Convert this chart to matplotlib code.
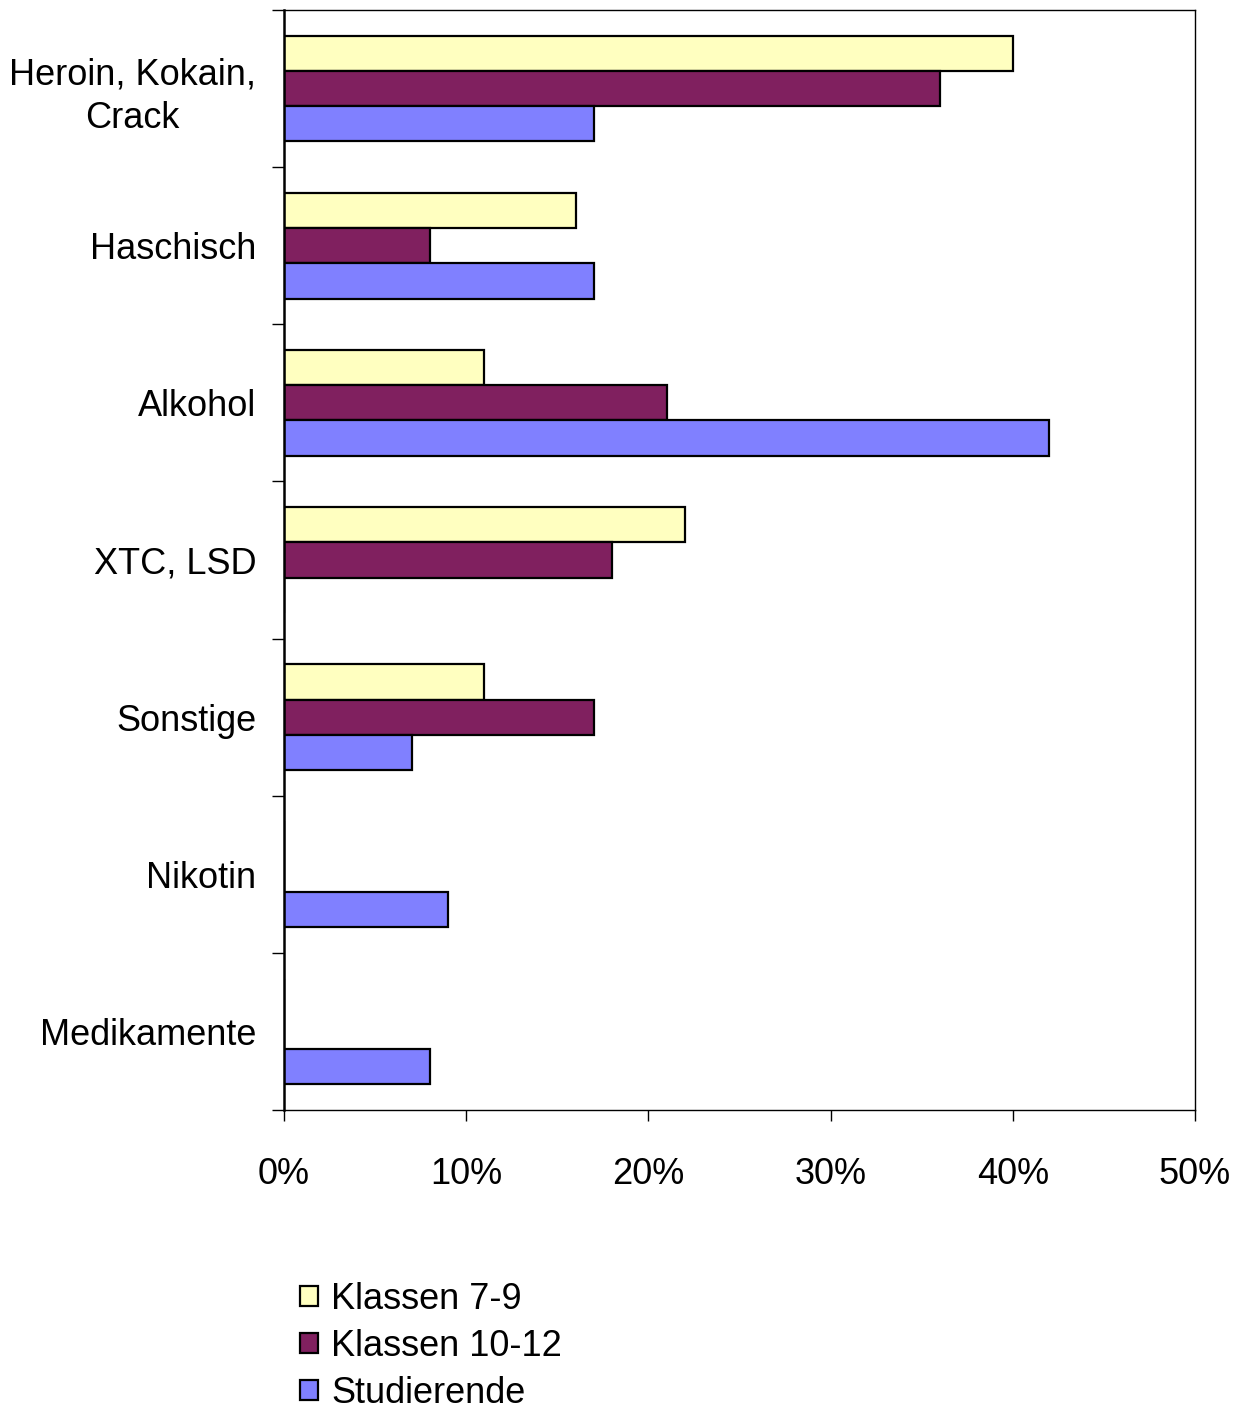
import numpy as np
import matplotlib
matplotlib.use("Agg")
import matplotlib.pyplot as plt
from matplotlib.ticker import PercentFormatter

plt.rcParams['font.family'] = ['Liberation Sans', 'DejaVu Sans']

categories = ["Heroin, Kokain,\nCrack", "Haschisch", "Alkohol", "XTC, LSD",
              "Sonstige", "Nikotin", "Medikamente"]
series_names = ["Klassen 7-9", "Klassen 10-12", "Studierende"]
klassen_7_9 = [40, 16, 11, 22, 11, 0, 0]
klassen_10_12 = [36, 8, 21, 18, 17, 0, 0]
studierende = [17, 17, 42, 0, 7, 9, 8]
x_ticks = [0, 10, 20, 30, 40, 50]

colors = ["#FFFFC0", "#80205F", "#8080FF"]
fs = 26

fig = plt.figure(figsize=(12.44, 14.10), dpi=100)
ax = fig.add_axes([284 / 1244, 1 - 1110 / 1410, (1195 - 284) / 1244, 1100 / 1410])

y = np.arange(len(categories))
h = 0.224
for i, (vals, name) in enumerate(zip([klassen_7_9, klassen_10_12, studierende], series_names)):
    vals = np.array(vals, dtype=float)
    ax.barh(y + (i - 1) * h, vals, height=h, color=colors[i], edgecolor="black",
            linewidth=1.6, label=name)

ax.set_xlim(0, 50)
ax.set_ylim(len(categories) - 0.5, -0.5)
ax.set_xticks(x_ticks)
ax.xaxis.set_major_formatter(PercentFormatter(decimals=0))
ax.tick_params(axis="x", direction="out", length=8, width=1, pad=26, labelsize=fs)

ax.set_yticks(np.arange(-0.5, len(categories)))
ax.set_yticklabels([])
ax.tick_params(axis="y", which="major", direction="out", length=9, width=1)
ax.set_yticks(y, minor=True)
ax.set_yticklabels(categories, minor=True, fontsize=fs, ha="right",
                   multialignment="center", linespacing=1.3)
ax.tick_params(axis="y", which="minor", length=0, pad=20)

ax.spines["left"].set_linewidth(1.8)
for s in ["top", "right", "bottom"]:
    ax.spines[s].set_linewidth(1.0)

fig.legend(loc="upper left", bbox_to_anchor=(300 / 1244, 1 - 1282 / 1410), frameon=False,
           fontsize=fs, handlelength=0.5, handleheight=0.5, handletextpad=0.36,
           labelspacing=0.33, borderpad=0, borderaxespad=0)

fig.savefig("out.png", dpi=100)
